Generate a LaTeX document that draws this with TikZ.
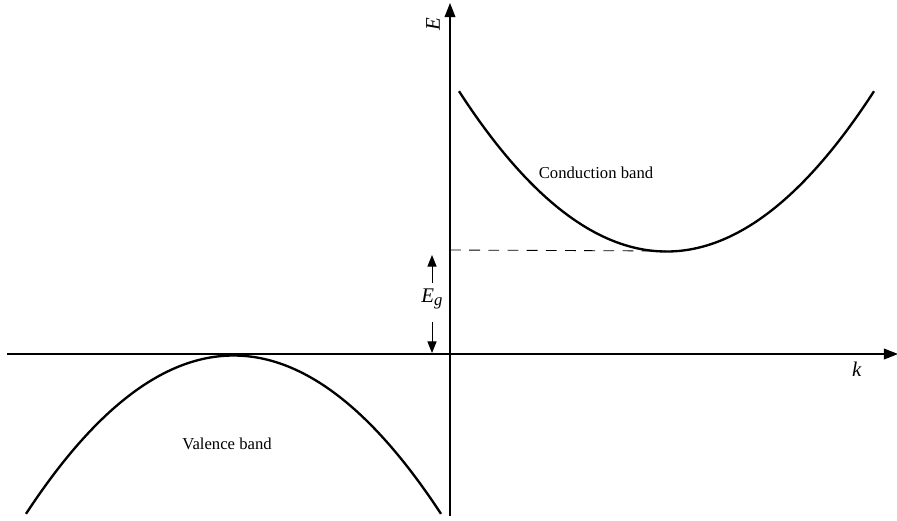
\documentclass[tikz,border=0pt]{standalone}
\usepackage{fontspec}
\setmainfont{Liberation Serif}
\usetikzlibrary{arrows.meta}
\tikzset{
  axisline/.style={line width=0.75pt, -{Triangle[length=8.5pt,width=6.5pt]}},
  bandcurve/.style={line width=1.4pt},
  gaparrow/.style={line width=0.6pt, -{Triangle[length=7pt,width=5.5pt]}},
  lbl/.style={font=\fontsize{10}{12}\selectfont, inner sep=1pt},
  axislbl/.style={font=\fontsize{12.5}{14}\selectfont, inner sep=1pt}
}
\begin{document}
\begin{tikzpicture}[x=0.6pt, y=-0.6pt]
\useasboundingbox (0,0) rectangle (897,520);
% axes
\coordinate (kstart) at (7,354);
\coordinate (kend) at (898,354);
\coordinate (estart) at (450,516);
\coordinate (eend) at (450,3);
\draw[axisline] (kstart) -- (kend);
\draw[axisline] (estart) -- (eend);
\node[axislbl] (klabel) at (857,369) {\textit{k}};
\node[axislbl, rotate=90] (elabel) at (433,24) {\textit{E}};
% bands
\draw[bandcurve] plot[domain=459:874, samples=80, smooth] (\x, {251.5-0.003716*(\x-666.5)*(\x-666.5)});
\draw[bandcurve] plot[domain=26:441, samples=80, smooth] (\x, {355.5+0.00367*(\x-233.5)*(\x-233.5)});
\node[lbl] (cband) at (596,173) {Conduction band};
\node[lbl] (vband) at (227,444) {Valence band};
% gap
\coordinate (cmin) at (666,251);
\coordinate (gaptop) at (450,250);
\draw[dashed, dash pattern=on 6.5pt off 5pt, line width=0.5pt] (gaptop) -- (cmin);
\node[axislbl] (eg) at (432,299) {\textit{E\raisebox{-0.4ex}{\fontsize{10}{11}\selectfont g}}};
\coordinate (upstart) at (432,283);
\coordinate (uptip) at (432,255);
\coordinate (downstart) at (432,322);
\coordinate (downtip) at (432,353);
\draw[gaparrow] (upstart) -- (uptip);
\draw[gaparrow] (downstart) -- (downtip);
\end{tikzpicture}
\end{document}
